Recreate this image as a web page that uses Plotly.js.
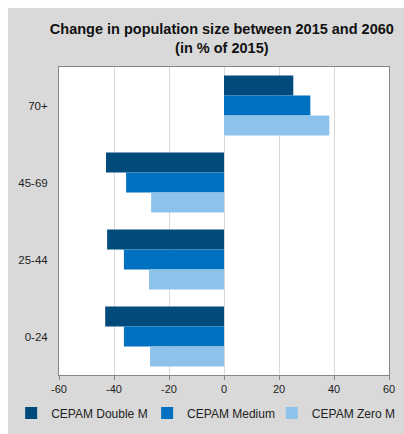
<!DOCTYPE html>
<html>
<head>
<meta charset="utf-8">
<script src="https://cdn.plot.ly/plotly-3.0.1.min.js"></script>
<style>
html,body{margin:0;padding:0;background:#ffffff;}
#chart{position:absolute;left:8px;top:8px;width:396px;height:426px;}
</style>
</head>
<body>
<div id="chart"></div>
<script>
const categories = ["70+", "45-69", "25-44", "0-24"];
const seriesNames = ["CEPAM Double M", "CEPAM Medium", "CEPAM Zero M"];
const doubleM = [25.2, -42.9, -42.5, -43.2];
const medium = [31.4, -35.6, -36.4, -36.4];
const zeroM = [38.3, -26.5, -27.3, -26.9];
const xTicks = [-60, -40, -20, 0, 20, 40, 60];
const colors = ["#004a7c", "#0070c0", "#8dc3ea"];

const values = [doubleM, medium, zeroM];
const legendIds = ["legend", "legend2", "legend3"];
const traces = values.map((v, i) => ({
  type: "bar",
  orientation: "h",
  name: seriesNames[i],
  y: categories,
  x: v,
  marker: {color: colors[i]},
  legend: legendIds[i],
  hoverinfo: "x+name"
}));

function legendAt(x) {
  return {
    orientation: "h",
    x: x, xanchor: "left",
    y: -0.076, yanchor: "top",
    font: {size: 12, color: "#222222"},
    bgcolor: "rgba(0,0,0,0)",
    itemwidth: 30
  };
}

const layout = {
  width: 396, height: 426,
  paper_bgcolor: "#d9d9d9",
  plot_bgcolor: "#ffffff",
  margin: {l: 51, r: 15, t: 59, b: 59, autoexpand: false},
  font: {family: "Liberation Sans, Arial, sans-serif", color: "#222222"},
  title: {
    text: "<b>Change in population size between 2015 and 2060<br>(in % of 2015)</b>",
    font: {size: 14.5, color: "#111111"},
    x: 0.54, xanchor: "center",
    y: 0.938, yanchor: "top"
  },
  barmode: "group",
  bargap: 0.22,
  bargroupgap: 0,
  xaxis: {
    range: [-60, 60],
    tickvals: xTicks,
    ticktext: xTicks.map(String),
    showgrid: true, gridcolor: "#d9d9d9", gridwidth: 1,
    zeroline: false,
    showline: true, linecolor: "#868686", linewidth: 1, mirror: true,
    ticks: "outside", ticklen: 4, tickcolor: "#868686",
    tickfont: {size: 11, color: "#222222"}
  },
  yaxis: {
    type: "category",
    categoryorder: "array", categoryarray: categories,
    autorange: "reversed",
    showgrid: false, zeroline: false,
    showline: true, linecolor: "#868686", linewidth: 1, mirror: true,
    ticks: "", ticklabelstandoff: 8,
    tickfont: {size: 11.5, color: "#222222"}
  },
  yaxis2: {
    overlaying: "y",
    anchor: "free",
    position: 0.5,
    range: [3.5, -0.5],
    tickvals: [0.5, 1.5, 2.5],
    showticklabels: false,
    ticks: "outside", ticklen: 3, tickcolor: "#868686",
    showline: true, linecolor: "#868686", linewidth: 1,
    showgrid: false, zeroline: false
  },
  showlegend: true,
  legend: legendAt(-0.145),
  legend2: legendAt(0.267),
  legend3: legendAt(0.645)
};

Plotly.newPlot("chart", traces, layout, {displayModeBar: false, staticPlot: true});
</script>
</body>
</html>
